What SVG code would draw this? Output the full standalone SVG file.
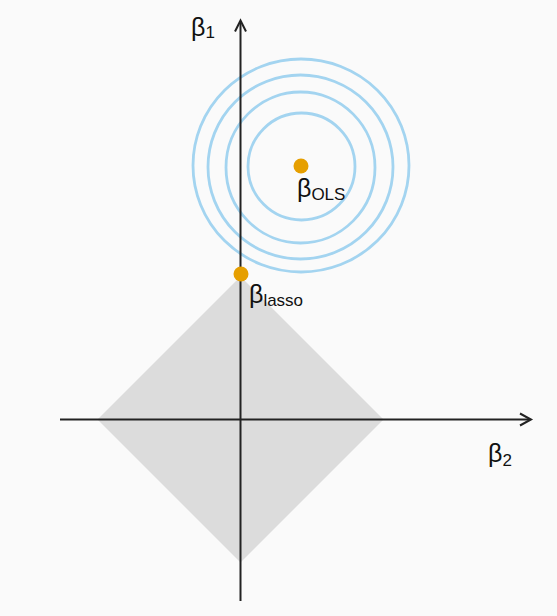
<svg xmlns="http://www.w3.org/2000/svg" width="557" height="616" viewBox="0 0 557 616">
  <defs>
    <style>
      .ring { fill: none; stroke: #a3d4f0; stroke-width: 2.8; }
      .axis { fill: none; stroke: #222222; stroke-width: 2; }
      .dot { fill: #e69f00; }
      .lbl { font-family: "Liberation Sans", Arial, sans-serif; fill: #111111; font-size: 25px; }
      .sub { font-size: 17px; }
    </style>
  </defs>
  <rect x="0" y="0" width="557" height="616" fill="#fafafa"/>
  <g id="constraint-region">
    <polygon points="240.5,276.5 383.5,419.5 240.5,562.5 97.5,419.5" fill="#dcdcdc"/>
  </g>
  <g id="contours">
    <ellipse class="ring" cx="301.5" cy="166.5" rx="53.5" ry="53.5"/>
    <ellipse class="ring" cx="300.5" cy="167.5" rx="74.5" ry="75.5"/>
    <ellipse class="ring" cx="300.5" cy="167" rx="92.5" ry="92"/>
    <ellipse class="ring" cx="301" cy="165.5" rx="108" ry="106.5"/>
  </g>
  <g id="connectors">
    <line class="axis" x1="240.5" y1="601" x2="240.5" y2="21"/>
    <polyline class="axis" points="235,31.5 240.5,20.5 246,31.5"/>
    <line class="axis" x1="60" y1="419.5" x2="530" y2="419.5"/>
    <polyline class="axis" points="520,413.5 531,419.5 520,425.5"/>
  </g>
  <g id="beta-ols">
    <circle class="dot" cx="301" cy="166" r="7.5"/>
    <text class="lbl" x="297" y="197">β<tspan class="sub" dy="3">OLS</tspan></text>
  </g>
  <g id="beta-lasso">
    <circle class="dot" cx="241" cy="274" r="7.5"/>
    <text class="lbl" x="249" y="303">β<tspan class="sub" dy="3">lasso</tspan></text>
  </g>
  <g id="label-beta1">
    <text class="lbl" x="191" y="36" font-size="26">β<tspan class="sub" dy="2">1</tspan></text>
  </g>
  <g id="label-beta2">
    <text class="lbl" x="488" y="462">β<tspan class="sub" dy="4">2</tspan></text>
  </g>
</svg>
